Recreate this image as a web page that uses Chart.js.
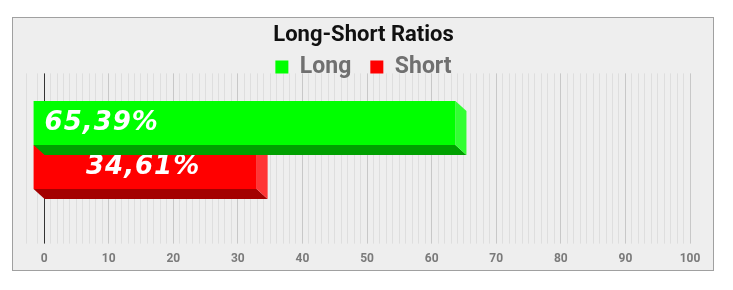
<!DOCTYPE html>
<html>
<head>
<meta charset="utf-8">
<script src="https://cdn.jsdelivr.net/npm/chart.js@4.4.0/dist/chart.umd.min.js"></script>
<style>
  html, body { margin: 0; padding: 0; background: #fff; }
  #wrap { position: relative; width: 733px; height: 290px; }
  #box {
    position: absolute; left: 12px; top: 17px; width: 700px; height: 252px;
    background: #eeeeee; border: 1px solid #a0a0a0;
  }
  #chart { position: absolute; left: 0; top: 0; }
</style>
</head>
<body>
<div id="wrap">
  <div id="box"></div>
  <canvas id="chart" width="733" height="290"></canvas>
</div>
<script>
// chart data
const categories = ["Ratio"];
const seriesNames = ["Long", "Short"];
const longValues = [65.39];
const shortValues = [34.61];
const majorTicks = [0, 10, 20, 30, 40, 50, 60, 70, 80, 90, 100];

// 3d colours per series
const frontColors = ["#00ff00", "#ff0000"];
const sideColors = ["#33ff33", "#ff3535"];
const bottomColors = ["#00a000", "#a40000"];
const labelAlign = ["start", "center"];

const depthX = 11;
const depthY = 10;

function fmt(v) {
  return v.toFixed(2).replace(".", ",") + "%";
}

// legend box is squeezed with maxHeight, let the descenders show anyway
const legendClipFix = {
  id: "legendClipFix",
  afterLayout(chart) {
    if (chart.legend) chart.legend.bottom += 6;
  },
};

// draws every bar as a little 3d box, front face shifted up-left
const bars3d = {
  id: "bars3d",
  beforeDatasetDraw(chart, args) {
    const ctx = chart.ctx;
    const i = args.index;
    const meta = args.meta;
    const values = chart.data.datasets[i].data;
    meta.data.forEach(function (bar, j) {
      const L = Math.min(bar.base, bar.x);
      const R = Math.max(bar.base, bar.x);
      const T = bar.y - bar.height / 2;
      const B = bar.y + bar.height / 2;
      ctx.save();
      // bottom face
      ctx.fillStyle = bottomColors[i];
      ctx.beginPath();
      ctx.moveTo(L - depthX, B - depthY);
      ctx.lineTo(R - depthX, B - depthY);
      ctx.lineTo(R, B);
      ctx.lineTo(L, B);
      ctx.closePath();
      ctx.fill();
      // side face
      ctx.fillStyle = sideColors[i];
      ctx.beginPath();
      ctx.moveTo(R - depthX, T - depthY);
      ctx.lineTo(R, T);
      ctx.lineTo(R, B);
      ctx.lineTo(R - depthX, B - depthY);
      ctx.closePath();
      ctx.fill();
      // front face
      ctx.fillStyle = frontColors[i];
      ctx.fillRect(L - depthX, T - depthY, R - L, B - T);
      // value label
      ctx.fillStyle = "#ffffff";
      ctx.font = "italic bold 26px 'DejaVu Sans'";
      ctx.letterSpacing = "1px";
      ctx.textBaseline = "middle";
      const cy = (T + B) / 2 - depthY;
      if (labelAlign[i] === "start") {
        ctx.textAlign = "left";
        ctx.fillText(fmt(values[j]), L - depthX + 11, cy);
      } else {
        ctx.textAlign = "center";
        ctx.fillText(fmt(values[j]), (L + R) / 2 - depthX - 2, cy);
      }
      ctx.restore();
    });
    return false;
  },
};

new Chart(document.getElementById("chart"), {
  type: "bar",
  data: {
    labels: categories,
    datasets: [
      { label: seriesNames[0], data: longValues, backgroundColor: frontColors[0], borderWidth: 0 },
      { label: seriesNames[1], data: shortValues, backgroundColor: frontColors[1], borderWidth: 0 },
    ],
  },
  options: {
    indexAxis: "y",
    responsive: false,
    animation: false,
    barThickness: 44,
    layout: { padding: { left: 26, right: 32, top: 0, bottom: 16 } },
    scales: {
      x: {
        min: -2.8,
        max: 100,
        border: { display: false },
        grid: {
          tickLength: 7,
          color: function (c) {
            const v = c.tick.value;
            if (v === 0) return "#333333";
            if (majorTicks.includes(v)) return "#c8c8c8";
            return "#dedede";
          },
        },
        ticks: {
          stepSize: 1,
          autoSkip: false,
          maxRotation: 0,
          padding: 8,
          color: "#7a7a7a",
          font: { family: "Roboto", size: 12, weight: "bold" },
          callback: function (v) {
            return majorTicks.includes(v) ? String(v) : "";
          },
        },
      },
      y: {
        position: "right",
        grid: { display: false },
        border: { display: false },
        ticks: { display: false },
        afterFit: function (scale) {
          scale.width = 11;
        },
      },
    },
    plugins: {
      title: {
        display: true,
        text: "Long-Short Ratios",
        color: "#111111",
        font: { family: "Roboto", size: 22, weight: "bold" },
        padding: { top: 22, bottom: -12 },
      },
      legend: {
        display: true,
        maxHeight: 37,
        labels: {
          boxWidth: 13,
          boxHeight: 13,
          padding: 19,
          color: "#707070",
          font: { family: "Roboto", size: 23, weight: "bold" },
        },
      },
      tooltip: { enabled: false },
    },
  },
  plugins: [bars3d, legendClipFix],
});
</script>
</body>
</html>
